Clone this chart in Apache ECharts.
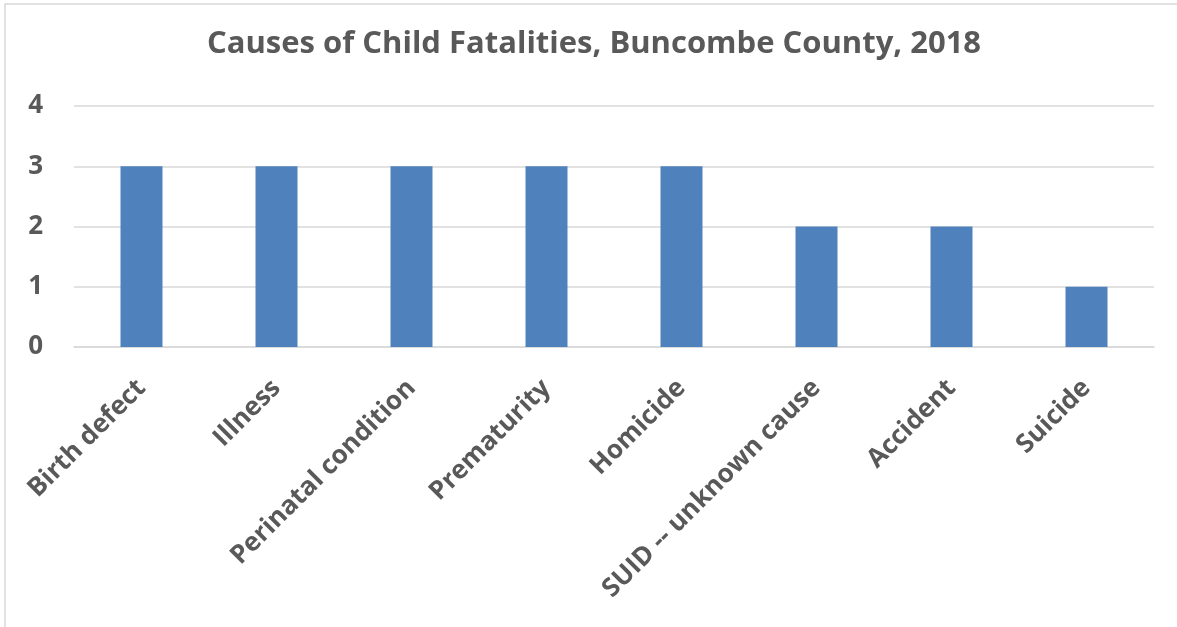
<!DOCTYPE html>
<html>
<head>
<meta charset="utf-8">
<script src="https://cdn.jsdelivr.net/npm/echarts@6/dist/echarts.min.js"></script>
<style>html,body{margin:0;padding:0;background:#fff}#c{width:1177px;height:627px}</style>
</head>
<body>
<div id="c"></div>
<script>
const categories = ["Birth defect","Illness","Perinatal condition","Prematurity","Homicide","SUID -- unknown cause","Accident","Suicide"];
const values = [3,3,3,3,3,2,2,1];
const chart = echarts.init(document.getElementById('c'));
chart.setOption({
  animation: false,
  backgroundColor: '#fff',
  title: {
    text: 'Causes of Child Fatalities, Buncombe County, 2018',
    left: 202, top: 24,
    textStyle: {fontFamily: 'Open Sans', fontWeight: 'bold', fontSize: 31, color: '#595959'}
  },
  graphic: [{
    type: 'rect', shape: {x: 5, y: 4, width: 1190, height: 640},
    style: {fill: 'none', stroke: '#d9d9d9', lineWidth: 1.5}, silent: true
  }],
  grid: {left: 74, right: 23, top: 106, bottom: 280},
  xAxis: {
    type: 'category', data: categories,
    axisLine: {show: true, lineStyle: {color: '#d9d9d9', width: 1.5}},
    axisTick: {show: false},
    axisLabel: {rotate: 45, interval: 0, margin: 37, fontFamily: 'Open Sans', fontWeight: 'bold', fontSize: 26, color: '#595959'}
  },
  yAxis: {
    type: 'value', min: 0, max: 4, interval: 1,
    axisLine: {show: false}, axisTick: {show: false},
    splitLine: {lineStyle: {color: '#d9d9d9', width: 1.5}},
    axisLabel: {margin: 31, fontFamily: 'Open Sans', fontWeight: 'bold', fontSize: 26, color: '#595959'}
  },
  series: [{
    type: 'bar', data: values, barWidth: 42,
    itemStyle: {color: '#4f81bd'}
  }]
});
</script>
</body>
</html>
